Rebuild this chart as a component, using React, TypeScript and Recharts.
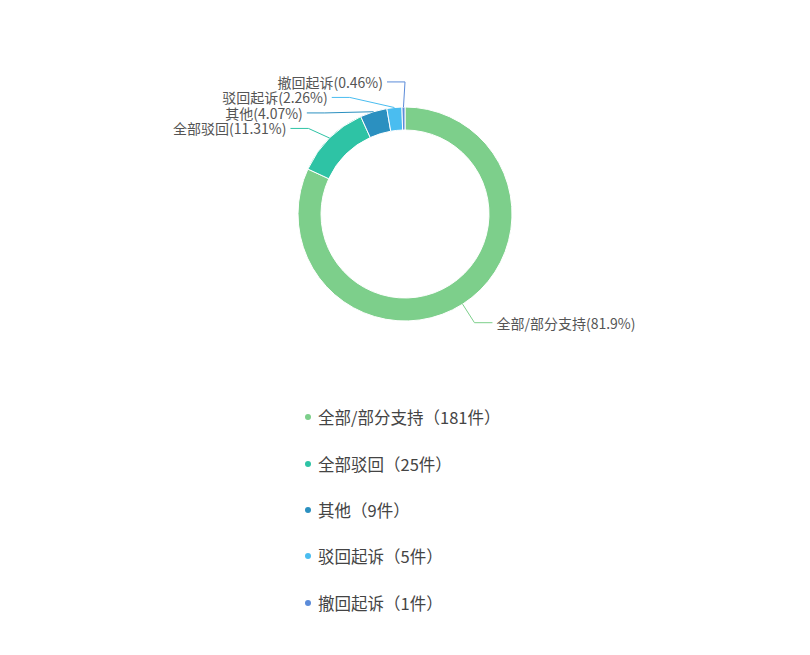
import { PieChart, Pie, Cell, Legend } from 'recharts';

// outcome categories and case counts
const NAMES = ['全部/部分支持', '全部驳回', '其他', '驳回起诉', '撤回起诉'];
const COUNTS = [181, 25, 9, 5, 1];
const PERCENTS = ['81.9', '11.31', '4.07', '2.26', '0.46'];
const COLORS = ['#7dcf8b', '#2ec3a5', '#2b90c0', '#4abdf0', '#5b8bd9'];

const CX = 405;
const CY = 214;
const OUTER = 107;
const INNER = 84;
const LEN1 = 22;     // first label line segment
const LEN2 = 18;     // horizontal segment
const LABEL_H = 15.5; // min vertical gap between labels

const data = NAMES.map((name, i) => ({ name, value: COUNTS[i], pct: PERCENTS[i] }));

interface LabelPos {
    side: number;
    x0: number;
    y0: number;
    y: number;
    bendX: number;
}

// echarts-like outside label layout
function buildLayout(): LabelPos[] {
    const total = COUNTS.reduce((a, b) => a + b, 0);
    const r2 = OUTER + LEN1;
    let acc = 0;
    const list = data.map((d) => {
        const mid = 90 - ((acc + d.value / 2) / total) * 360;
        acc += d.value;
        const rad = (mid * Math.PI) / 180;
        const cos = Math.cos(rad);
        const sin = -Math.sin(rad);
        return {
            side: cos >= 0 ? 1 : -1,
            x0: CX + OUTER * cos,
            y0: CY + OUTER * sin,
            y: CY + r2 * sin,
            bendX: 0,
        };
    });

    [1, -1].forEach((side) => {
        const items = list.filter((l) => l.side === side).sort((a, b) => a.y - b.y);
        if (!items.length) return;
        const orig = items.map((l) => l.y);
        for (let k = 1; k < items.length; k++) {
            if (items[k].y < items[k - 1].y + LABEL_H) items[k].y = items[k - 1].y + LABEL_H;
        }
        // pull the pushed group back up a little
        const moved = items.reduce((s, l, k) => s + (l.y - orig[k]), 0) / items.length;
        items.forEach((l) => { l.y -= moved / 4; });
    });

    list.forEach((l) => {
        const dy = l.y - CY;
        l.bendX = CX + l.side * Math.sqrt(Math.max(0, r2 * r2 - dy * dy));
    });
    return list;
}

const layout = buildLayout();

const renderLabel = (props: any) => {
    const i = props.index;
    const p = layout[i];
    const endX = p.bendX + p.side * LEN2;
    return (
        <g key={`label-${i}`}>
            <polyline
                points={`${p.x0},${p.y0} ${p.bendX},${p.y} ${endX},${p.y}`}
                fill="none"
                stroke={COLORS[i]}
                strokeWidth={1}
            />
            <text
                x={endX + p.side * 4}
                y={p.y}
                textAnchor={p.side > 0 ? 'start' : 'end'}
                dominantBaseline="central"
                fontSize={14}
                fill="#555"
            >
                {`${data[i].name}(${data[i].pct}%)`}
            </text>
        </g>
    );
};

const renderLegend = () => (
    <ul style={{ listStyle: 'none', margin: 0, padding: 0 }}>
        {data.map((d, i) => (
            <li
                key={d.name}
                style={{ display: 'flex', alignItems: 'center', height: 46.4, fontSize: 16.5, color: '#444' }}
            >
                <span
                    style={{
                        width: 6,
                        height: 6,
                        borderRadius: 3,
                        background: COLORS[i],
                        marginRight: 7,
                    }}
                />
                {`${d.name}（${d.value}件）`}
            </li>
        ))}
    </ul>
);

export default function App() {
    return (
        <div
            style={{
                position: 'absolute',
                left: 0,
                top: 0,
                width: 810,
                height: 655,
                background: '#fff',
                fontFamily: '"Noto Sans CJK SC", "Noto Sans", sans-serif',
            }}
        >
            <PieChart width={810} height={655} margin={{ top: 0, right: 0, bottom: 0, left: 0 }}>
                <Pie
                    data={data}
                    dataKey="value"
                    nameKey="name"
                    cx={CX}
                    cy={CY}
                    startAngle={90}
                    endAngle={-270}
                    innerRadius={INNER}
                    outerRadius={OUTER}
                    stroke="#fff"
                    strokeWidth={1}
                    label={renderLabel}
                    labelLine={false}
                    isAnimationActive={false}
                >
                    {data.map((entry, index) => (
                        <Cell key={`cell-${index}`} fill={COLORS[index]} />
                    ))}
                </Pie>
                <Legend
                    content={renderLegend}
                    wrapperStyle={{ position: 'absolute', left: 305, top: 394, width: 300, bottom: 'auto' }}
                />
            </PieChart>
        </div>
    );
}
